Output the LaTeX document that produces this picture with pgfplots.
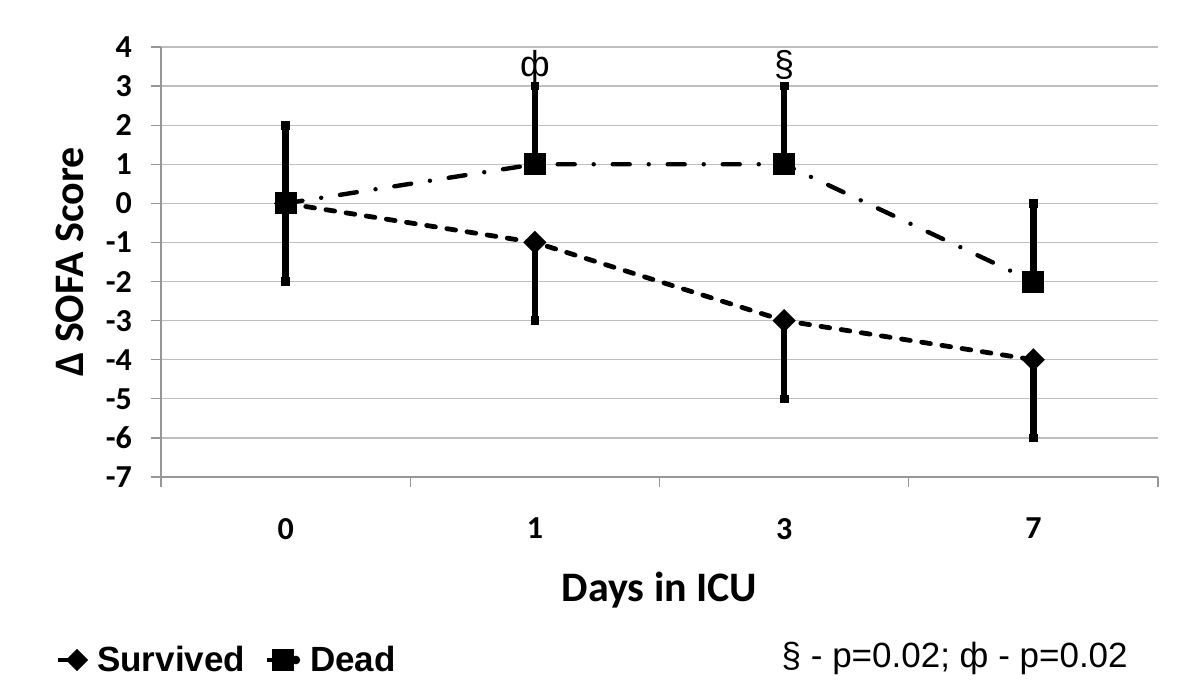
\documentclass[border=0pt]{standalone}
\usepackage{fontspec}
\setmainfont{Carlito}
\newfontfamily\arial{Liberation Sans}
\usepackage{pgfplots}
\pgfplotsset{compat=1.18}
\definecolor{gridgray}{RGB}{190,190,190}
\definecolor{axgray}{RGB}{150,150,150}
\newcommand\tl{\bfseries\fontsize{16}{16}\selectfont}
\begin{document}
\begin{tikzpicture}
\path[use as bounding box] (0,0) rectangle (600pt,343pt);
\begin{axis}[
  at={(80.5pt,104.5pt)}, anchor=south west,
  scale only axis, width=498.5pt, height=215pt,
  xmin=-0.5, xmax=3.5, ymin=-7, ymax=4,
  axis lines*=left,
  axis line style={-, draw=axgray, line width=0.6pt},
  tick align=outside,
  xtick={0,1,2,3}, xticklabels={\tl 0,\tl 1,\tl 3,\tl 7},
  major x tick style={draw=none},
  minor xtick={-0.5,0.5,1.5,2.5,3.5},
  minor tick length=5pt, major tick length=5pt,
  minor x tick style={draw=axgray, line width=0.6pt},
  ytick={-7,-6,-5,-4,-3,-2,-1,0,1,2,3,4},
  yticklabels={\tl -7,\tl -6,\tl -5,\tl -4,\tl -3,\tl -2,\tl -1,\tl 0,\tl 1,\tl 2,\tl 3,\tl 4},
  major y tick style={draw=axgray, line width=0.6pt},
  ymajorgrids,
  grid style={draw=gridgray, line width=0.6pt},
  xticklabel style={yshift=-12pt},
  yticklabel style={xshift=-6pt},
  xlabel={Days in ICU},
  ylabel={Δ SOFA Score},
  label style={font=\bfseries\fontsize{21}{21}\selectfont},
  xlabel style={at={(axis description cs:0.5,-0.263)}, anchor=center},
  ylabel style={at={(axis description cs:-0.0913,0.5)}, anchor=center},
  legend style={draw=none, fill=none, at={(axis description cs:-0.106,-0.4256)}, anchor=west,
    font=\arial\bfseries\fontsize{17.5}{18}\selectfont, inner sep=0pt,
    nodes={inner sep=0pt},
    /tikz/every odd column/.append style={column sep=5pt},
    /tikz/every even column/.append style={column sep=10pt}},
  legend columns=2,
  legend cell align=left,
  clip=false,
]
\addplot[black, line width=2.4pt, line cap=round, dash pattern=on 4.4pt off 5.8pt,
  mark=square*, mark size=3.6pt, mark options={solid, rotate=45, line width=1pt},
  legend image code/.code={
     \draw[black, solid, line width=1.8pt, line cap=butt] (4pt,0pt) -- (13.75pt,0pt);
     \fill[black, solid] (13.75pt,0pt) +(0,3.9pt) -- +(3.9pt,0) -- +(0,-3.9pt) -- +(-3.9pt,0) -- cycle;},
  error bars/.cd, y dir=minus, y explicit,
  error bar style={line width=3.2pt, solid, line cap=butt},
  error mark=square*,
  error mark options={mark size=1.9pt, line width=0.4pt, fill=black, rotate=0}]
  coordinates {(0,0) -= (0,2) (1,-1) -= (0,2) (2,-3) -= (0,2) (3,-4) -= (0,2)};
\addlegendentry{Survived}
\addplot[black, line width=2.2pt, line cap=round, dash pattern=on 8.5pt off 9.5pt on 0.01pt off 9.5pt,
  mark=square*, mark size=5pt, mark options={solid, line width=1pt},
  legend image code/.code={\draw[black, solid, line width=1.8pt, line cap=butt] (0pt,0pt) -- (4pt,0pt);
     \fill[black, solid] (8pt,0pt) +(-4.5pt,-4.5pt) rectangle +(4.5pt,4.5pt);
     \fill[black, solid] (14.5pt,0pt) circle (1pt);},
  error bars/.cd, y dir=plus, y explicit,
  error bar style={line width=3.2pt, solid, line cap=butt},
  error mark=square*,
  error mark options={mark size=1.9pt, line width=0.4pt, fill=black, rotate=0}]
  coordinates {(0,0) += (0,2) (1,1) += (0,2) (2,1) += (0,2) (3,-2) += (0,2)};
\addlegendentry{Dead}
\node[anchor=base, yshift=5pt, font=\arial\fontsize{18}{18}\selectfont, inner sep=0pt] at (axis cs:1,3) {ф};
\node[anchor=base, yshift=5pt, font=\arial\fontsize{18}{18}\selectfont, inner sep=0pt] at (axis cs:2,3) {§};
\node[anchor=east, font=\arial\fontsize{17.5}{18}\selectfont, inner sep=0pt] at (axis description cs:0.970,-0.421) {§ - p=0.02; ф - p=0.02};
\end{axis}
\end{tikzpicture}
\end{document}
